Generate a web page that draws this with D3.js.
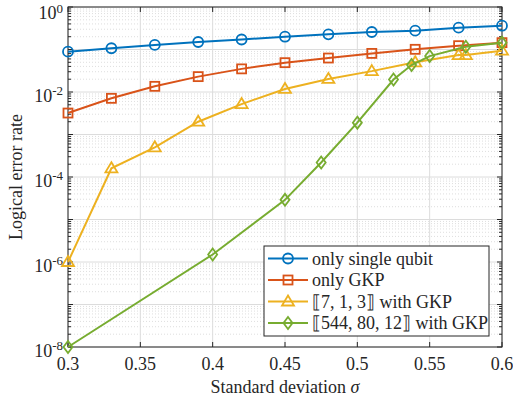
<!DOCTYPE html>
<html>
<head>
<meta charset="utf-8">
<script src="https://cdn.jsdelivr.net/npm/d3@7"></script>
<style>
  body { margin: 0; background: #fff; }
</style>
</head>
<body>
<div id="chart"></div>
<script>
// series data
var sigmaA = [0.3, 0.33, 0.36, 0.39, 0.42, 0.45, 0.48, 0.51, 0.54, 0.57, 0.6];
var singleQubit = [0.089, 0.107, 0.128, 0.15, 0.172, 0.2, 0.227, 0.258, 0.277, 0.327, 0.363];
var onlyGkp = [0.0032, 0.0071, 0.0136, 0.023, 0.035, 0.049, 0.063, 0.081, 0.101, 0.123, 0.145];
var sigmaSteane = [0.3, 0.33, 0.36, 0.39, 0.42, 0.45, 0.48, 0.51, 0.54, 0.57, 0.575, 0.6];
var steane = [1e-6, 1.6e-4, 5e-4, 2e-3, 5.2e-3, 0.0118, 0.0203, 0.031, 0.05, 0.074, 0.074, 0.094];
var sigmaBig = [0.3, 0.4, 0.45, 0.475, 0.5, 0.525, 0.5375, 0.55, 0.575, 0.6];
var bigCode = [1e-8, 1.5e-6, 2.9e-5, 2.2e-4, 1.9e-3, 0.0197, 0.043, 0.07, 0.116, 0.145];

var xTicks = [0.3, 0.35, 0.4, 0.45, 0.5, 0.55, 0.6];
var xTickLabels = ["0.3", "0.35", "0.4", "0.45", "0.5", "0.55", "0.6"];
var yTickExps = [-8, -6, -4, -2, 0];

var series = [
    { name: "only single qubit", x: sigmaA, y: singleQubit, color: "#0072BD", marker: "circle" },
    { name: "only GKP", x: sigmaA, y: onlyGkp, color: "#D95319", marker: "square" },
    { name: "\u27E67, 1, 3\u27E7 with GKP", x: sigmaSteane, y: steane, color: "#EDB120", marker: "triangle" },
    { name: "\u27E6544, 80, 12\u27E7 with GKP", x: sigmaBig, y: bigCode, color: "#77AC30", marker: "diamond" }
];

var FONT = "'Liberation Serif', 'Times New Roman', 'DejaVu Serif', serif";
var W = 513, H = 403;
var L = 68, R = 502, T = 7, B = 347;

var svg = d3.select("#chart").append("svg").attr("width", W).attr("height", H)
    .attr("font-family", FONT);
var x = d3.scaleLinear().domain([0.3, 0.6]).range([L, R]);
var y = d3.scaleLog().domain([1e-8, 1]).range([B, T]);

// grid
var grid = svg.append("g");
var decades = d3.range(-8, 1);
var minors = [];
decades.slice(0, -1).forEach(function(e) {
    for (var k = 2; k <= 9; k++) minors.push(k * Math.pow(10, e));
});
grid.selectAll(".minor").data(minors).enter().append("line")
    .attr("x1", L).attr("x2", R)
    .attr("y1", function(d) { return y(d); }).attr("y2", function(d) { return y(d); })
    .style("stroke", "#c8c8c8").style("stroke-width", 0.6).style("stroke-dasharray", "1,2");
grid.selectAll(".major").data(decades.map(function(e) { return Math.pow(10, e); })).enter().append("line")
    .attr("x1", L).attr("x2", R)
    .attr("y1", function(d) { return y(d); }).attr("y2", function(d) { return y(d); })
    .style("stroke", "#dcdcdc").style("stroke-width", 1);
grid.selectAll(".xmajor").data(xTicks).enter().append("line")
    .attr("y1", T).attr("y2", B)
    .attr("x1", function(d) { return x(d); }).attr("x2", function(d) { return x(d); })
    .style("stroke", "#dcdcdc").style("stroke-width", 1);

// box + ticks
var ax = svg.append("g").style("stroke", "#262626").style("stroke-width", 1);
ax.append("rect").attr("x", L).attr("y", T).attr("width", R - L).attr("height", B - T).style("fill", "none");
xTicks.forEach(function(d) {
    ax.append("line").attr("x1", x(d)).attr("x2", x(d)).attr("y1", B).attr("y2", B - 5);
    ax.append("line").attr("x1", x(d)).attr("x2", x(d)).attr("y1", T).attr("y2", T + 5);
});
decades.forEach(function(e) {
    var v = y(Math.pow(10, e));
    ax.append("line").attr("x1", L).attr("x2", L + 5).attr("y1", v).attr("y2", v);
    ax.append("line").attr("x1", R).attr("x2", R - 5).attr("y1", v).attr("y2", v);
});
minors.forEach(function(d) {
    var v = y(d);
    ax.append("line").attr("x1", L).attr("x2", L + 3).attr("y1", v).attr("y2", v);
    ax.append("line").attr("x1", R).attr("x2", R - 3).attr("y1", v).attr("y2", v);
});

// tick labels
svg.selectAll(".xl").data(xTicks).enter().append("text")
    .attr("x", function(d) { return x(d); }).attr("y", 370)
    .attr("text-anchor", "middle").attr("font-size", 18).attr("fill", "#262626")
    .text(function(d, i) { return xTickLabels[i]; });

yTickExps.forEach(function(e) {
    // top label nudged down so its exponent stays inside the page
    var t = svg.append("text").attr("x", 63).attr("y", y(Math.pow(10, e)) + (e === 0 ? 12 : 10))
        .attr("text-anchor", "end").attr("font-size", 18).attr("fill", "#262626");
    t.append("tspan").text("10");
    t.append("tspan").attr("dy", e === 0 ? -6 : -7).attr("font-size", 13).text(e === 0 ? "0" : "-" + (-e));
});

svg.append("text").attr("x", 285).attr("y", 393).attr("text-anchor", "middle")
    .attr("font-size", 18).attr("fill", "#262626")
    .html('Standard deviation <tspan font-style="italic">σ</tspan>');
svg.append("text").attr("transform", "translate(22," + ((T + B) / 2) + ") rotate(-90)")
    .attr("text-anchor", "middle").attr("font-size", 18).attr("fill", "#262626")
    .text("Logical error rate");

// markers
function drawMarker(g, type, cx, cy, color) {
    var m;
    if (type === "circle") {
        m = g.append("circle").attr("cx", cx).attr("cy", cy).attr("r", 5);
    } else if (type === "square") {
        m = g.append("rect").attr("x", cx - 4.5).attr("y", cy - 4.5).attr("width", 9).attr("height", 9);
    } else if (type === "triangle") {
        m = g.append("path").attr("d", "M" + cx + "," + (cy - 6) + "L" + (cx + 6) + "," + (cy + 4) + "L" + (cx - 6) + "," + (cy + 4) + "Z");
    } else {
        m = g.append("path").attr("d", "M" + cx + "," + (cy - 6) + "L" + (cx + 4.5) + "," + cy + "L" + cx + "," + (cy + 6) + "L" + (cx - 4.5) + "," + cy + "Z");
    }
    m.style("fill", "none").style("stroke", color).style("stroke-width", 1.8);
}

var line = d3.line();
series.forEach(function(s) {
    var pts = s.x.map(function(v, i) { return [x(v), y(s.y[i])]; });
    var g = svg.append("g");
    g.append("path").attr("d", line(pts)).style("fill", "none")
        .style("stroke", s.color).style("stroke-width", 2);
    pts.forEach(function(p) { drawMarker(g, s.marker, p[0], p[1], s.color); });
});

// legend
var lg = svg.append("g");
lg.append("rect").attr("x", 264).attr("y", 246).attr("width", 225).attr("height", 90)
    .style("fill", "#fff").style("stroke", "#262626").style("stroke-width", 1);
series.forEach(function(s, i) {
    var ly = 258.5 + i * 21.5;
    lg.append("line").attr("x1", 268).attr("x2", 308).attr("y1", ly).attr("y2", ly)
        .style("stroke", s.color).style("stroke-width", 2);
    drawMarker(lg, s.marker, 288, ly, s.color);
    lg.append("text").attr("x", 312).attr("y", ly + 6).attr("font-size", 18)
        .attr("fill", "#262626").text(s.name);
});
</script>
</body>
</html>
